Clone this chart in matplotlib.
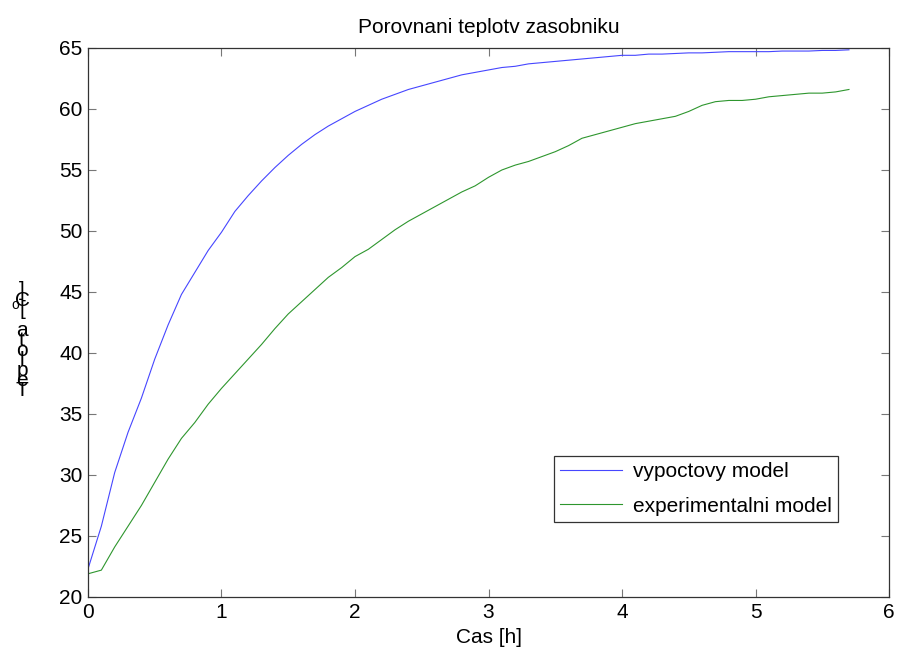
import matplotlib
matplotlib.use("Agg")
import matplotlib.pyplot as plt

# time axis [h], sampled every 0.1 h
cas = [round(0.1 * i, 1) for i in range(58)]

# computed tank temperature [degC]
vypoctovy = [
    22.3, 25.8, 30.2, 33.5, 36.3, 39.5, 42.3, 44.8, 46.6, 48.4,
    49.9, 51.6, 52.9, 54.1, 55.2, 56.2, 57.1, 57.9, 58.6, 59.2,
    59.8, 60.3, 60.8, 61.2, 61.6, 61.9, 62.2, 62.5, 62.8, 63.0,
    63.2, 63.4, 63.5, 63.7, 63.8, 63.9, 64.0, 64.1, 64.2, 64.3,
    64.4, 64.4, 64.5, 64.5, 64.55, 64.6, 64.6, 64.65, 64.7, 64.7,
    64.7, 64.7, 64.75, 64.75, 64.75, 64.8, 64.8, 64.85,
]

# measured tank temperature [degC]
experimentalni = [
    21.9, 22.2, 24.1, 25.8, 27.5, 29.4, 31.3, 33.0, 34.3, 35.8,
    37.1, 38.3, 39.5, 40.7, 42.0, 43.2, 44.2, 45.2, 46.2, 47.0,
    47.9, 48.5, 49.3, 50.1, 50.8, 51.4, 52.0, 52.6, 53.2, 53.7,
    54.4, 55.0, 55.4, 55.7, 56.1, 56.5, 57.0, 57.6, 57.9, 58.2,
    58.5, 58.8, 59.0, 59.2, 59.4, 59.8, 60.3, 60.6, 60.7, 60.7,
    60.8, 61.0, 61.1, 61.2, 61.3, 61.3, 61.4, 61.6,
]

labels = ["vypoctovy model", "experimentalni model"]

plt.rcParams["font.family"] = ["Liberation Sans", "DejaVu Sans"]
plt.rcParams["font.size"] = 15

fig = plt.figure(figsize=(8.97, 6.53), dpi=100)
ax = fig.add_axes([0.0981, 0.0858, 0.8930, 0.8407])

ax.plot(cas, vypoctovy, color="#4646ff", lw=0.8, label=labels[0])
ax.plot(cas, experimentalni, color="#2e962e", lw=0.8, label=labels[1])

ax.set_xlim(0, 6)
ax.set_ylim(20, 65)
ax.set_xticks(range(0, 7))
ax.set_yticks(range(20, 66, 5))
ax.tick_params(direction="in", length=6, width=0.8, color="#777777",
               top=True, right=True, labelsize=15, pad=4)
for sp in ax.spines.values():
    sp.set_color("#333333")
    sp.set_linewidth(0.9)

ax.set_title("Porovnani teplotv zasobniku", fontsize=15, pad=11)
ax.set_xlabel("Cas [h]", fontsize=15, labelpad=5)

# y label drawn one upright character at a time, stacked bottom to top
ylab = "Teplota [oC]"
y = 390
for ch in ylab:
    if ch == "o" and y < 320:
        fig.text(15 / 897, 1 - (y + 5) / 653, ch, fontsize=10,
                 ha="center", va="center")
        continue
    if ch != " ":
        fig.text(22 / 897, 1 - y / 653, ch, fontsize=15,
                 ha="center", va="center")
    y -= 10

leg = ax.legend(loc="lower right", bbox_to_anchor=(0.9363, 0.1366),
                borderaxespad=0, fancybox=False, framealpha=1,
                handlelength=3.0, labelspacing=0.75, borderpad=0.3,
                handletextpad=0.5, fontsize=15)
leg.get_frame().set_edgecolor("#333333")
leg.get_frame().set_linewidth(0.9)

fig.savefig("out.png", dpi=100)
